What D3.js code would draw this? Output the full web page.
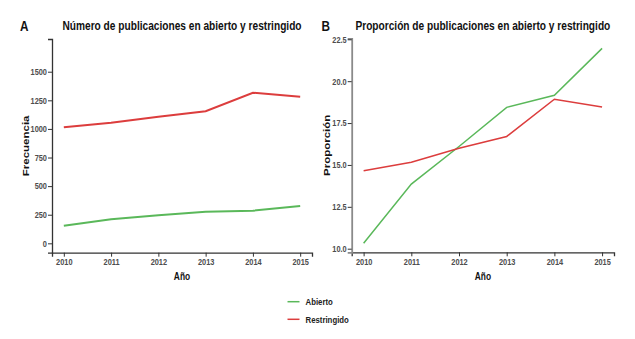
<!DOCTYPE html>
<html>
<head>
<meta charset="utf-8">
<script src="https://cdn.jsdelivr.net/npm/d3@7"></script>
<style>
  body { margin: 0; background: #fff; }
  svg text { font-family: "Liberation Sans", Arial, sans-serif; }
</style>
</head>
<body>
<svg id="chart" width="635" height="339"></svg>
<script>
// Data
const years = [2010, 2011, 2012, 2013, 2014, 2015];
const countAbierto = [154, 210, 245, 276, 285, 326];
const countRestringido = [1014, 1054, 1107, 1154, 1316, 1281];
const propAbierto = [10.32, 13.86, 16.1, 18.44, 19.16, 21.96];
const propRestringido = [14.66, 15.16, 16.0, 16.7, 18.92, 18.46];
const countTicks = [0, 250, 500, 750, 1000, 1250, 1500];
const propTicks = [10, 12.5, 15, 17.5, 20, 22.5];
const seriesNames = ["Abierto", "Restringido"];
const colors = { Abierto: "#5ab85a", Restringido: "#dc3d3d" };

// The text in the picture is horizontally squeezed
const squeeze = 0.84;

const svg = d3.select("#chart");

// Add a horizontally squeezed text at (x, y)
function addText(x, y, str, size, anchor)
{
  return svg.append("text")
    .attr("transform", `translate(${ x }, ${ y }) scale(${ squeeze }, 1)`)
    .attr("text-anchor", anchor || "start")
    .attr("font-size", size)
    .attr("font-weight", "bold")
    .attr("fill", "#111")
    .text(str);
}

/**
 * Draw one panel: axes, lines and titles
 */
function drawPanel(opts)
{
  const x = d3.scaleLinear()
    .domain([2009.75, 2015.25])
    .range([opts.left, opts.right]);

  const y = d3.scaleLinear()
    .domain(opts.yDomain)
    .range([opts.bottom, opts.top]);

  const g = svg.append("g");

  // Lines
  const line = d3.line()
    .x((d, i) => x(years[i]))
    .y(d => y(d));

  g.append("path")
    .datum(opts.abierto)
    .attr("d", line)
    .attr("fill", "none")
    .attr("stroke", colors.Abierto)
    .attr("stroke-width", opts.lineWidth);

  g.append("path")
    .datum(opts.restringido)
    .attr("d", line)
    .attr("fill", "none")
    .attr("stroke", colors.Restringido)
    .attr("stroke-width", opts.lineWidth);

  // X axis
  const xAxis = g.append("g")
    .attr("transform", `translate(0, ${ opts.bottom })`)
    .call(d3.axisBottom(x).tickValues(years).tickFormat(d3.format("d")).tickSizeOuter(0).tickSize(4).tickPadding(2));
  xAxis.select(".domain").attr("stroke", "#333").attr("stroke-width", 1.3);
  xAxis.selectAll(".tick line").attr("stroke", "#333");
  xAxis.selectAll("text")
    .attr("fill", "#4d4d4d")
    .attr("font-size", "8.8px")
    .attr("font-weight", "bold")
    .attr("font-family", null)
    .attr("transform", `scale(${ squeeze }, 1)`);

  // Y axis
  const yAxis = g.append("g")
    .attr("transform", `translate(${ opts.left }, 0)`)
    .call(d3.axisLeft(y).tickValues(opts.yTicks).tickFormat(opts.yFormat).tickSizeOuter(0).tickSize(4).tickPadding(2));
  yAxis.select(".domain").attr("stroke", opts.yAxisColor).attr("stroke-width", opts.yAxisWidth);
  yAxis.selectAll(".tick line").attr("stroke", "#333");
  yAxis.selectAll("text")
    .attr("fill", "#4d4d4d")
    .attr("font-size", "8.8px")
    .attr("font-weight", "bold")
    .attr("font-family", null)
    .attr("transform", `scale(${ squeeze }, 1)`);

  // Panel tag and title
  addText(opts.tagX, 31, opts.tag, "14px");
  addText((opts.left + opts.right) / 2, 30, opts.title, "12.1px", "middle");

  // X axis label
  addText((opts.left + opts.right) / 2, 280, "Año", "10px", "middle");

  // Y axis label (rotated, squeezed across the glyphs)
  svg.append("text")
    .attr("transform", `translate(${ opts.yLabelX }, ${ (opts.top + opts.bottom) / 2 }) rotate(-90) scale(1, ${ squeeze })`)
    .attr("text-anchor", "middle")
    .attr("font-size", "11.5px")
    .attr("font-weight", "bold")
    .attr("fill", "#111")
    .text(opts.yLabel);
}

drawPanel({
  left: 52, right: 312, top: 39, bottom: 252.7,
  yDomain: [-82, 1786],
  yTicks: countTicks,
  yFormat: d3.format("d"),
  abierto: countAbierto,
  restringido: countRestringido,
  lineWidth: 2,
  yAxisColor: "#333",
  yAxisWidth: 1.3,
  tag: "A", tagX: 20,
  title: "Número de publicaciones en abierto y restringido",
  yLabel: "Frecuencia", yLabelX: 28.5
});

drawPanel({
  left: 351.7, right: 614, top: 38.3, bottom: 252.3,
  yDomain: [9.785, 22.56],
  yTicks: propTicks,
  yFormat: d3.format(".1f"),
  abierto: propAbierto,
  restringido: propRestringido,
  lineWidth: 1.5,
  yAxisColor: "#8a8a8a",
  yAxisWidth: 1.8,
  tag: "B", tagX: 321.5,
  title: "Proporción de publicaciones en abierto y restringido",
  yLabel: "Proporción", yLabelX: 329.5
});

// Legend
seriesNames.forEach((name, i) =>
{
  const yPos = 301.7 + i * 17.6;
  svg.append("line")
    .attr("x1", 287.5).attr("x2", 299.5)
    .attr("y1", yPos).attr("y2", yPos)
    .attr("stroke", colors[name])
    .attr("stroke-width", 1.5);
  addText(305.5, yPos + 3.3, name, "9.3px").attr("fill", "#222");
});
</script>
</body>
</html>
